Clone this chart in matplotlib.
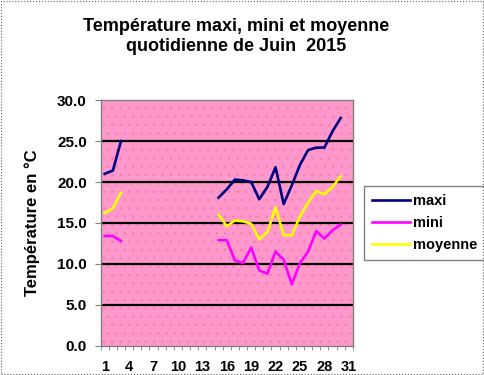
import numpy as np
import matplotlib.pyplot as plt
from matplotlib.patches import Rectangle

plt.rcParams['font.family'] = ['Liberation Sans', 'DejaVu Sans']
plt.rcParams['hatch.linewidth'] = 0.5

# Daily values for June 2015 (days 4-14 missing)
nan = np.nan
days = np.arange(1, 32)
maxi = [21.0, 21.4, 25.0] + [nan] * 11 + [
    18.1, 19.1, 20.3, 20.2, 20.0, 17.9, 19.4, 21.8, 17.3, 19.6,
    22.1, 23.9, 24.2, 24.2, 26.2, 27.8, nan]
mini = [13.4, 13.4, 12.8] + [nan] * 11 + [
    12.9, 12.9, 10.4, 10.1, 12.0, 9.2, 8.8, 11.5, 10.5, 7.5,
    10.1, 11.5, 14.0, 13.1, 14.1, 14.8, nan]
moyenne = [16.2, 16.8, 18.7] + [nan] * 11 + [
    16.0, 14.6, 15.3, 15.2, 14.9, 13.0, 13.9, 16.9, 13.5, 13.5,
    15.8, 17.5, 18.9, 18.5, 19.4, 20.7, nan]
xlabels = [1, 4, 7, 10, 13, 16, 19, 22, 25, 28, 31]

fig = plt.figure(figsize=(4.84, 3.75), dpi=100)
ax = fig.add_axes([0.208, 0.078, 0.521, 0.655])

# pink dotted plot area
ax.set_facecolor('#ff99cc')
ax.add_patch(Rectangle((0, 0), 1, 1, transform=ax.transAxes, facecolor='none',
                       edgecolor='#f57bb5', hatch='..', linewidth=0, zorder=0))

for y in [5, 10, 15, 20, 25]:
    ax.axhline(y, color='black', linewidth=1.6, zorder=1)

ax.plot(days, maxi, color='#000080', linewidth=1.9, label='maxi', zorder=3)
ax.plot(days, mini, color='#ff00ff', linewidth=1.9, label='mini', zorder=3)
ax.plot(days, moyenne, color='#ffff00', linewidth=1.9, label='moyenne', zorder=3)

ax.set_xlim(0.5, 31.5)
ax.set_ylim(0, 30)
ax.set_yticks(np.arange(0, 31, 5))
ax.set_yticklabels(['%.1f' % v for v in np.arange(0, 31, 5)],
                   fontsize=11, fontweight='bold')
ax.set_xticks(xlabels)
ax.set_xticklabels([str(v) for v in xlabels], fontsize=10.5, fontweight='bold')
ax.set_xticks(np.arange(0.5, 32, 1), minor=True)
ax.tick_params(axis='x', which='major', length=0, pad=10)
ax.tick_params(axis='x', which='minor', length=3, color='#808080', direction='out')
ax.tick_params(axis='y', length=4, color='#808080', direction='out', pad=6)
for s in ax.spines.values():
    s.set_color('#808080')
    s.set_linewidth(1)

ax.set_ylabel('Température en °C', fontsize=12, fontweight='bold', labelpad=12)

fig.text(0.487, 0.903, 'Température maxi, mini et moyenne\nquotidienne de Juin  2015',
         ha='center', va='center', fontsize=13, fontweight='bold', linespacing=1.25)

leg = ax.legend(loc='upper left', bbox_to_anchor=(364 / 484, 1 - 186 / 375),
                bbox_transform=fig.transFigure, fancybox=False, framealpha=1,
                edgecolor='#808080', handlelength=2.6, handletextpad=0.2,
                borderpad=0.55, labelspacing=0.55, borderaxespad=0,
                prop={'size': 10.5, 'weight': 'bold'})
leg.get_frame().set_linewidth(1)

fig.patches.append(Rectangle((0.002, 0.003), 0.996, 0.994, transform=fig.transFigure,
                             fill=False, edgecolor='#606060', linestyle=':',
                             linewidth=0.8))

fig.savefig('out.png', dpi=100)
